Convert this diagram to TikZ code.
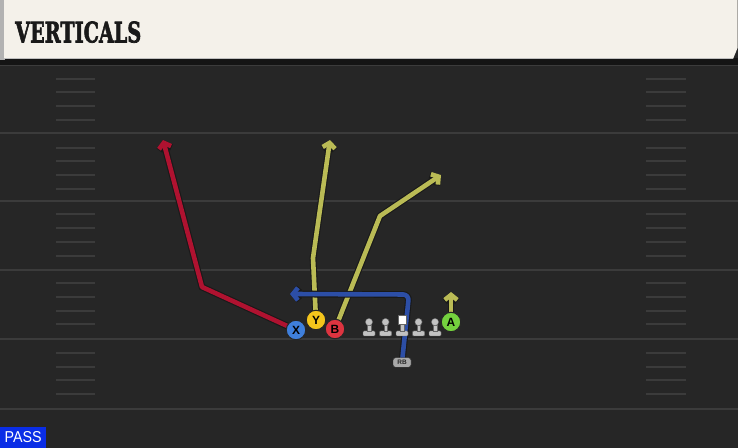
\documentclass[tikz,border=0pt]{standalone}
\usepackage{fontspec}
\setsansfont{Liberation Sans}
\newfontfamily\titlefont{DejaVu Serif}[BoldFeatures={FakeBold=2.5}]
\usepackage{tikz}
\usetikzlibrary{arrows.meta,backgrounds,positioning,calc}
\definecolor{fieldcol}{HTML}{262626}
\definecolor{linecol}{HTML}{3B3B3B}
\definecolor{headcol}{HTML}{F4F1EA}
\definecolor{xblue}{HTML}{3F7FDB}
\definecolor{yyellow}{HTML}{F4C51C}
\definecolor{bred}{HTML}{DD3440}
\definecolor{agreen}{HTML}{74D13E}
\definecolor{redrt}{HTML}{AF1230}
\definecolor{yelrt}{HTML}{BABB55}
\definecolor{blurt}{HTML}{2C4EA6}
\definecolor{passblue}{HTML}{0A2DE6}
\definecolor{lmgray}{HTML}{C2C2C2}
\definecolor{rbgray}{HTML}{A8A8A8}
\pgfdeclarelayer{field}
\pgfdeclarelayer{routes}
\pgfsetlayers{field,routes,main}
\tikzset{
  yardline/.style={draw=linecol,line width=2bp},
  hashmark/.style={draw=linecol,line width=2bp},
  route/.style={line width=4.6bp,line join=round,
    preaction={draw=black!90,line width=6.8bp},
    -{Straight Barb[length=5bp,width=12.5bp]}},
  player/.style={draw=black!85,line width=1bp,circle,minimum size=19.5bp,
    inner sep=0pt,font=\sffamily\bfseries\fontsize{12}{12}\selectfont},
  rbtag/.style={draw=black!85,fill=rbgray,rounded corners=2.5bp,
    minimum width=18bp,minimum height=9.5bp,inner sep=0pt,
    font=\sffamily\bfseries\fontsize{6.5}{6.5}\selectfont,text=black!85},
  lman/.pic={
    \filldraw[fill=lmgray,draw=black!60,line width=0.4bp,rounded corners=1bp]
      (-6bp,0bp) rectangle (6bp,5bp);
    \filldraw[fill=lmgray,draw=black!60,line width=0.4bp]
      (-1.8bp,5bp) rectangle (1.8bp,11bp);
    \filldraw[fill=lmgray,draw=black!60,line width=0.4bp] (0bp,14bp) circle (3.6bp);
  },
  cman/.pic={
    \filldraw[fill=lmgray,draw=black!60,line width=0.4bp,rounded corners=1bp]
      (-6bp,0bp) rectangle (6bp,5bp);
    \filldraw[fill=lmgray,draw=black!60,line width=0.4bp]
      (-1.8bp,5bp) rectangle (1.8bp,12bp);
    \filldraw[fill=white,draw=black!60,line width=0.4bp]
      (-3.7bp,12bp) rectangle (3.7bp,21bp);
  }
}

\begin{document}
\begin{tikzpicture}[line cap=round]
\useasboundingbox (0bp,0bp) rectangle (738bp,448bp);
%% field
\begin{pgfonlayer}{field}
  \fill[fieldcol] (0bp,0bp) rectangle (738bp,448bp);
  \draw[yardline] (0bp,383bp) -- (738bp,383bp);
  \draw[yardline] (0bp,314.5bp) -- (738bp,314.5bp);
  \draw[yardline] (0bp,246.5bp) -- (738bp,246.5bp);
  \draw[yardline] (0bp,178bp) -- (738bp,178bp);
  \draw[yardline] (0bp,109bp) -- (738bp,109bp);
  \draw[yardline] (0bp,39bp) -- (738bp,39bp);
  \draw[hashmark] (56bp,369bp) -- (95bp,369bp) (646bp,369bp) -- (686bp,369bp);
  \draw[hashmark] (56bp,356bp) -- (95bp,356bp) (646bp,356bp) -- (686bp,356bp);
  \draw[hashmark] (56bp,342bp) -- (95bp,342bp) (646bp,342bp) -- (686bp,342bp);
  \draw[hashmark] (56bp,328bp) -- (95bp,328bp) (646bp,328bp) -- (686bp,328bp);
  \draw[hashmark] (56bp,300bp) -- (95bp,300bp) (646bp,300bp) -- (686bp,300bp);
  \draw[hashmark] (56bp,286.5bp) -- (95bp,286.5bp) (646bp,286.5bp) -- (686bp,286.5bp);
  \draw[hashmark] (56bp,273bp) -- (95bp,273bp) (646bp,273bp) -- (686bp,273bp);
  \draw[hashmark] (56bp,259bp) -- (95bp,259bp) (646bp,259bp) -- (686bp,259bp);
  \draw[hashmark] (56bp,233.5bp) -- (95bp,233.5bp) (646bp,233.5bp) -- (686bp,233.5bp);
  \draw[hashmark] (56bp,219.5bp) -- (95bp,219.5bp) (646bp,219.5bp) -- (686bp,219.5bp);
  \draw[hashmark] (56bp,205.5bp) -- (95bp,205.5bp) (646bp,205.5bp) -- (686bp,205.5bp);
  \draw[hashmark] (56bp,191.5bp) -- (95bp,191.5bp) (646bp,191.5bp) -- (686bp,191.5bp);
  \draw[hashmark] (56bp,165bp) -- (95bp,165bp) (646bp,165bp) -- (686bp,165bp);
  \draw[hashmark] (56bp,151bp) -- (95bp,151bp) (646bp,151bp) -- (686bp,151bp);
  \draw[hashmark] (56bp,137bp) -- (95bp,137bp) (646bp,137bp) -- (686bp,137bp);
  \draw[hashmark] (56bp,124bp) -- (95bp,124bp) (646bp,124bp) -- (686bp,124bp);
  \draw[hashmark] (56bp,95bp) -- (95bp,95bp) (646bp,95bp) -- (686bp,95bp);
  \draw[hashmark] (56bp,81bp) -- (95bp,81bp) (646bp,81bp) -- (686bp,81bp);
  \draw[hashmark] (56bp,68bp) -- (95bp,68bp) (646bp,68bp) -- (686bp,68bp);
  \draw[hashmark] (56bp,54bp) -- (95bp,54bp) (646bp,54bp) -- (686bp,54bp);
  %% header
  \fill[black!92] (0bp,383bp) rectangle (738bp,389.5bp);
  \fill[black!30] (0bp,388bp) rectangle (5bp,448bp);
  \fill[headcol] (4bp,389bp) -- (733bp,389bp) -- (737.5bp,400bp)
    -- (737.5bp,448bp) -- (4bp,448bp) -- cycle;
  \draw[black!25,line width=0.8bp] (4bp,389.5bp) -- (733bp,389.5bp);
\end{pgfonlayer}
\node (title) at (15bp,405bp) [anchor=south west,inner sep=0pt,text=black!90]
  {\resizebox{126bp}{21bp}{\titlefont\bfseries VERTICALS}};
\node (pass) at (0bp,0bp) [anchor=south west,fill=passblue,minimum width=46bp,
  minimum height=20.5bp,inner sep=0pt,text=white]
  {\resizebox{37bp}{11bp}{\sffamily PASS}};
%% linemen
\pic (lt) at (369bp,112bp) {lman};
\pic (lg) at (385.5bp,112bp) {lman};
\pic (c) at (402bp,112bp) {cman};
\pic (rg) at (418.5bp,112bp) {lman};
\pic (rt) at (435bp,112bp) {lman};
%% players
\node (x) at (296bp,118bp) [player,fill=xblue] {X};
\node (y) at (316bp,128bp) [player,fill=yyellow] {Y};
\node (b) at (335bp,119bp) [player,fill=bred] {B};
\node (a) at (451bp,126bp) [player,fill=agreen] {A};
\node (rb) at (402bp,85.5bp) [rbtag] {RB};
\coordinate (xbrk) at (202bp,161bp);
\coordinate (xend) at (163bp,308bp);
\coordinate (ybrk) at (313bp,190bp);
\coordinate (yend) at (330bp,308bp);
\coordinate (bbrk) at (380bp,232bp);
\coordinate (bend) at (441bp,273bp);
\coordinate (aend) at (451bp,156bp);
\coordinate (rbc) at (409bp,153.5bp);
\coordinate (rbend) at (290bp,154bp);
%% routes
\begin{pgfonlayer}{routes}
  \draw [route,redrt] (x.center) -- (xbrk) -- (xend);
  \draw [route,yelrt] (y.center) -- (ybrk) -- (yend);
  \draw [route,yelrt] (b.center) -- (bbrk) -- (bend);
  \draw [route,yelrt] (a.center) -- (aend);
  \draw [route,blurt,rounded corners=6bp] (rb.center) -- (rbc) -- (rbend);
\end{pgfonlayer}
%
\end{tikzpicture}
\end{document}
